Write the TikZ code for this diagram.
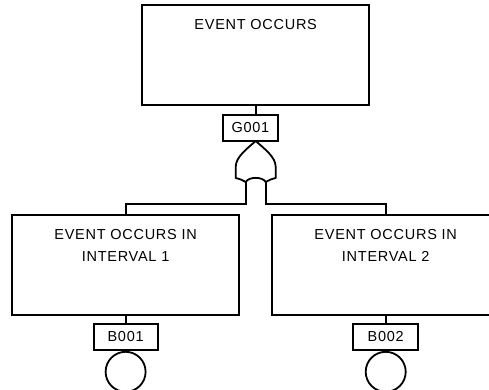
\documentclass[tikz,border=0pt]{standalone}
\usepackage{fontspec}
\setmainfont[LetterSpace=5]{Liberation Sans}
\usetikzlibrary{positioning, calc}

\tikzset{
  eventbox/.style={draw, rectangle, minimum width=227pt, minimum height=100pt, inner sep=0pt},
  eventtext/.style={align=center, font=\fontsize{14.5}{22}\selectfont, inner sep=0pt, anchor=north},
  tagbox/.style={draw, rectangle, minimum height=26pt, inner sep=0pt, font=\fontsize{14.5}{15}\selectfont},
  basic/.style={draw, circle, minimum size=40pt, inner sep=0pt}
}

\begin{document}
\begin{tikzpicture}[x=1pt, y=-1pt, line width=1.8pt]
  \useasboundingbox (0,0) rectangle (489,390);
  % Top event
  \node[eventbox] (top) at (255.7,55.3) {};
  \node[eventtext] (toptxt) at (255.7,18) {EVENT OCCURS};
  \node[tagbox, minimum width=55.6pt] (g001) at (250.5,128) {G001};
  % OR gate
  \coordinate (apex) at (255.7,141);
  \coordinate (legL) at (245.7,182);
  \coordinate (legR) at (265.7,182);
  \coordinate (bus) at (0,204);
  \draw[line join=round] (235.7,178) -- (235.7,167)
    .. controls (235.7,157) and (246.7,149) .. (apex)
    .. controls (264.7,149) and (275.7,157) .. (275.7,167)
    -- (275.7,178)
    .. controls (271.7,179) and (268.7,180) .. (legR)
    .. controls (262.7,176.5) and (248.7,176.5) .. (legL)
    .. controls (242.7,180) and (239.7,179) .. cycle;
  % Intermediate events
  \node[eventbox] (ev1) at (125.6,265) {};
  \node[eventtext] (ev1txt) at (125.6,228) {EVENT OCCURS IN\\INTERVAL 1};
  \node[eventbox] (ev2) at (385.7,265) {};
  \node[eventtext] (ev2txt) at (385.7,228) {EVENT OCCURS IN\\INTERVAL 2};
  % Basic events
  \node[tagbox, minimum width=64pt] (b001) at (125.6,337) {B001};
  \node[basic, below=0pt of b001] (c001) {};
  \node[tagbox, minimum width=65pt] (b002) at (385.7,337) {B002};
  \node[basic, below=0pt of b002] (c002) {};
  % Connectors
  \draw (top.south -| apex) -- (g001.north -| apex);
  \draw (legL) -- (legL |- bus) -| (ev1.north);
  \draw (legR) -- (legR |- bus) -| (ev2.north);
  \draw (ev1) -- (b001);
  \draw (ev2) -- (b002);
\end{tikzpicture}
\end{document}
